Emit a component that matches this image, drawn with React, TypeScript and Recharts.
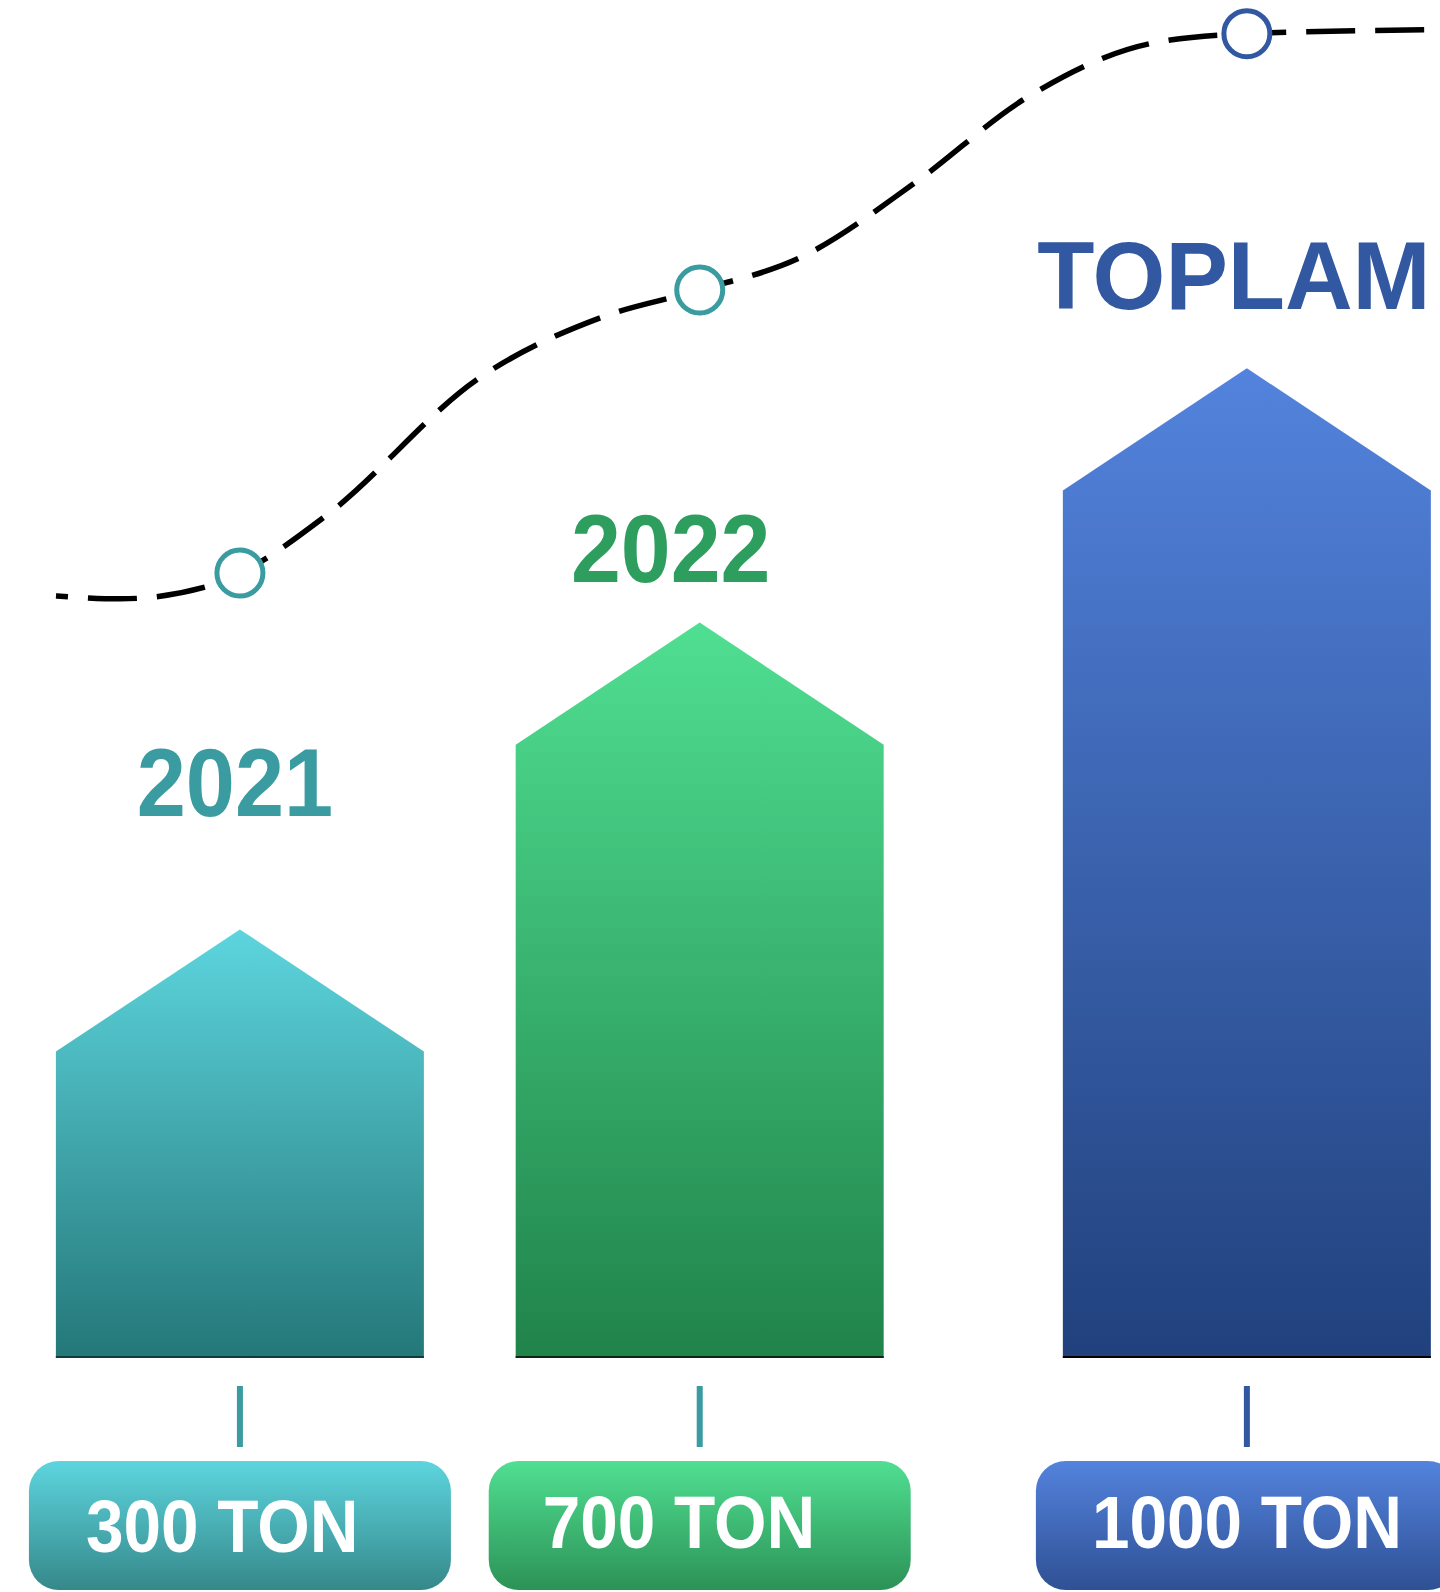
import React from 'react';
import { ComposedChart, Bar, Line, XAxis, YAxis, LabelList } from 'recharts';

/* ── Data ─────────────────────────────────────────── */
const CATEGORIES = ['2021', '2022', 'TOPLAM'];
const CATEGORY_X = [1, 2, 3.19]; // slot of each column on the timeline axis
const BAR_HEIGHT = [433, 743, 1000]; // drawn height of each column
const TONNAGE = ['300 TON', '700 TON', '1000 TON'];

// dashed growth curve
const TREND_X = [0.6, 0.74, 0.94, 1, 1.19, 1.52, 1.79, 2, 2.22, 2.47, 2.71, 2.98, 3.19, 3.61];
const TREND_Y = [770, 767, 781, 793, 852, 990, 1052, 1079, 1112, 1188, 1273, 1328, 1338, 1342];

/* ── Colours ──────────────────────────────────────── */
const LABEL_COLORS = ['#3A9CA0', '#2E9E5F', '#3158A0'];
const MARK_COLORS = ['#3A9CA0', '#3A9CA0', '#3158A0'];
const BAR_GRADS = [
    ['#5DD5DE', '#247778'],
    ['#50DF92', '#20834A'],
    ['#5383DD', '#21417D'],
];
const PILL_GRADS = [
    ['#5DD5DE', '#35888A'],
    ['#50DF92', '#2C9256'],
    ['#5383DD', '#2F5094'],
];
const BASE_COLORS = ['#0E3B3B', '#0A2615', '#000000'];

/* ── Layout bits ──────────────────────────────────── */
const FONT = "'Liberation Sans', Arial, sans-serif";
const BAR_WIDTH = 368;
const LABEL_SHIFT = [
    { dx: -5, dy: -113, sx: 0.91 },
    { dx: -29, dy: -41, sx: 0.925 },
    { dx: -13, dy: -59, sx: 0.965 },
];
const PILL_TEXT_SHIFT = [
    { dx: 3, dy: 4 },
    { dx: 0, dy: 0 },
    { dx: 2, dy: 0 },
];

const table = TREND_X.map((x, i) => {
    const c = CATEGORY_X.indexOf(x);
    return {
        x,
        trend: TREND_Y[i],
        height: c >= 0 ? BAR_HEIGHT[c] : null,
        name: c >= 0 ? CATEGORIES[c] : null,
        cat: c,
    };
});

/* ── Shapes ───────────────────────────────────────── */
// Recharts squeezes bars on a number axis, so the column keeps its own width
const HouseBar = (props: any) => {
    const { x, y, width, height, payload } = props;
    const c = payload?.cat ?? -1;
    if (c < 0 || !height || height <= 0) return <g />;
    const w = BAR_WIDTH;
    const left = x + width / 2 - w / 2;
    const roof = w * 0.332;
    const d = `M${left},${y + roof} L${left + w / 2},${y} L${left + w},${y + roof} L${left + w},${y + height} L${left},${y + height} Z`;
    return (
        <g>
            <path d={d} fill={`url(#barGrad${c})`} />
            <rect x={left} y={y + height - 2} width={w} height={2} fill={BASE_COLORS[c]} />
        </g>
    );
};

const YearLabel = (props: any) => {
    const { x, y, width, value } = props;
    const c = CATEGORIES.indexOf(value);
    if (c < 0) return null;
    const s = LABEL_SHIFT[c];
    return (
        <text
            transform={`translate(${x + width / 2 + s.dx},${y + s.dy}) scale(${s.sx},1)`}
            textAnchor="middle"
            fill={LABEL_COLORS[c]}
            fontSize={97}
            fontWeight={700}
            fontFamily={FONT}
        >
            {value}
        </text>
    );
};

const TonTick = (props: any) => {
    const { x, y, payload } = props;
    const c = CATEGORY_X.findIndex((v) => Math.abs(v - payload.value) < 1e-6);
    if (c < 0) return <g />;
    const t = PILL_TEXT_SHIFT[c];
    return (
        <g>
            <rect x={x - 3} y={y + 28} width={6} height={61} fill={MARK_COLORS[c]} />
            <rect x={x - 211} y={y + 103} width={422} height={129} rx={30} ry={30} fill={`url(#pillGrad${c})`} />
            <text
                transform={`translate(${x - 211 + 54 + t.dx},${y + 190 + t.dy}) scale(0.9,1)`}
                fill="#ffffff"
                fontSize={75}
                fontWeight={700}
                fontFamily={FONT}
            >
                {TONNAGE[c]}
            </text>
        </g>
    );
};

const TrendDot = (props: any) => {
    const { cx, cy, payload, index } = props;
    const c = payload?.cat ?? -1;
    if (c < 0) return <g key={`d${index}`} />;
    return <circle key={`d${index}`} cx={cx} cy={cy} r={23} fill="#ffffff" stroke={MARK_COLORS[c]} strokeWidth={5} />;
};

/* ── Chart ────────────────────────────────────────── */
const App: React.FC = () => (
    <div style={{ position: 'absolute', left: 0, top: 0, width: 1440, height: 1592, background: '#ffffff' }}>
        <ComposedChart width={1440} height={1592} data={table} margin={{ top: 0, right: 0, bottom: 0, left: 56 }}>
            <defs>
                {BAR_GRADS.map(([a, b], i) => (
                    <linearGradient key={`b${i}`} id={`barGrad${i}`} x1="0" y1="0" x2="0" y2="1">
                        <stop offset="0%" stopColor={a} />
                        <stop offset="100%" stopColor={b} />
                    </linearGradient>
                ))}
                {PILL_GRADS.map(([a, b], i) => (
                    <linearGradient key={`p${i}`} id={`pillGrad${i}`} x1="0" y1="0" x2="0" y2="1">
                        <stop offset="0%" stopColor={a} />
                        <stop offset="100%" stopColor={b} />
                    </linearGradient>
                ))}
            </defs>
            <XAxis
                type="number"
                dataKey="x"
                domain={['dataMin', 'dataMax']}
                ticks={CATEGORY_X}
                interval={0}
                height={234}
                axisLine={false}
                tickLine={false}
                tickSize={0}
                tickMargin={0}
                tick={<TonTick />}
            />
            <YAxis type="number" domain={[0, 1372]} hide />
            <Bar dataKey="height" shape={<HouseBar />} isAnimationActive={false}>
                <LabelList dataKey="name" content={<YearLabel />} />
            </Bar>
            <Line
                type="monotoneX"
                dataKey="trend"
                stroke="#000000"
                strokeWidth={5.5}
                strokeDasharray="49 20"
                strokeDashoffset={37}
                dot={TrendDot}
                activeDot={false}
                isAnimationActive={false}
            />
        </ComposedChart>
    </div>
);

export default App;
